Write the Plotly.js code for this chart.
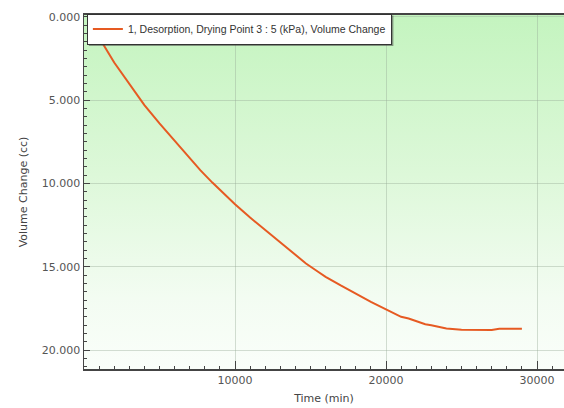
<!DOCTYPE html>
<html>
<head>
<meta charset="utf-8">
<script src="https://cdn.plot.ly/plotly-3.0.1.min.js"></script>
<style>html,body{margin:0;padding:0;background:#fff;}#chart{width:564px;height:408px;}</style>
</head>
<body>
<div id="chart"></div>
<script>
// Time (min)
const timeMin = [400, 1000, 2000, 3000, 4000, 5000, 6000, 7000, 7700, 8500, 9000, 10000,
  11000, 12000, 13000, 14000, 14700, 15500, 16000, 17000, 18000, 19000, 20000,
  21000, 21500, 22000, 22600, 23000, 23600, 24000, 25000, 26000, 27000, 27500, 29000];
// Volume Change (cc)
const volumeChange = [0.00, 1.25, 2.75, 4.05, 5.30, 6.40, 7.45, 8.45, 9.20, 9.95, 10.40, 11.25,
  12.05, 12.80, 13.55, 14.30, 14.80, 15.30, 15.60, 16.12, 16.63, 17.10, 17.55,
  18.00, 18.10, 18.28, 18.45, 18.50, 18.62, 18.70, 18.78, 18.79, 18.79, 18.72, 18.72];
const xTickVals = [10000, 20000, 30000];
const xTickText = ["10000", "20000", "30000"];
const seriesName = "1, Desorption, Drying Point 3 : 5 (kPa), Volume Change";
const xTitle = "Time (min)";
const yTitle = "Volume Change (cc)";

const gradSvg = '<svg xmlns="http://www.w3.org/2000/svg" width="100" height="100" preserveAspectRatio="none">' +
  '<defs><linearGradient id="g" x1="0" y1="0" x2="0" y2="1">' +
  '<stop offset="0" stop-color="#c4f4bf"/>' +
  '<stop offset="0.45" stop-color="#ddf8d9"/>' +
  '<stop offset="0.8" stop-color="#f3fcf2"/>' +
  '<stop offset="1" stop-color="#fafefa"/>' +
  '</linearGradient></defs><rect width="100" height="100" fill="url(#g)"/></svg>';
const gradUri = 'data:image/svg+xml;base64,' + btoa(gradSvg);

const tickFont = {family: "DejaVu Sans", size: 11, color: "#555"};

const trace = {
  x: timeMin, y: volumeChange, type: "scatter", mode: "lines",
  name: seriesName,
  line: {color: "#e65a22", width: 2}
};

const M = {l: 84, r: 0, t: 15, b: 39};
const layout = {
  width: 564, height: 408,
  margin: M,
  paper_bgcolor: "#ffffff",
  plot_bgcolor: "rgba(0,0,0,0)",
  showlegend: true,
  legend: {
    x: 0.006, y: 1.004, xanchor: "left", yanchor: "top",
    bgcolor: "#ffffff", bordercolor: "#333", borderwidth: 1,
    font: {family: "Liberation Sans", size: 10.5, color: "#333"},
    tracegroupgap: 0
  },
  images: [{
    source: gradUri, xref: "paper", yref: "paper", x: 0, y: 1,
    sizex: 1, sizey: 1, sizing: "stretch", layer: "below", xanchor: "left", yanchor: "top"
  }],
  xaxis: {
    range: [0, 31788], tickmode: "array", tickvals: xTickVals, ticktext: xTickText,
    ticks: "inside", ticklen: 8, tickcolor: "#444", tickwidth: 1,
    minor: {ticks: "inside", tickmode: "linear", dtick: 1000, tick0: 0, ticklen: 3, tickcolor: "#444", showgrid: false},
    showline: true, linecolor: "#444", linewidth: 2, mirror: true,
    showgrid: true, gridcolor: "rgba(150,170,150,0.4)", gridwidth: 1,
    zeroline: false, tickfont: tickFont,
    title: {text: xTitle, font: {family: "DejaVu Sans", size: 11, color: "#444"}, standoff: 8}
  },
  yaxis: {
    range: [21.13, -0.1], tickmode: "linear", tick0: 0, dtick: 5, tickformat: ".3f",
    ticks: "inside", ticklen: 6, tickcolor: "#444", tickwidth: 1,
    minor: {ticks: "inside", tickmode: "linear", dtick: 0.5, tick0: 0, ticklen: 3, tickcolor: "#444", showgrid: false},
    showline: true, linecolor: "#444", linewidth: 1.5, mirror: false,
    showgrid: true, gridcolor: "rgba(150,170,150,0.4)", gridwidth: 1,
    zeroline: false, tickfont: tickFont,
    title: {text: yTitle, font: {family: "DejaVu Sans", size: 11, color: "#444"}, standoff: 12}
  }
};

Plotly.newPlot("chart", [trace], layout, {displayModeBar: false, staticPlot: true}).then(function (gd) {
  // soft drop shadow behind the legend box, sized from the rendered legend
  const bg = gd.querySelector(".legend .bg");
  const leg = gd.querySelector(".legend");
  if (!bg || !leg) return;
  const m = /translate\(([-\d.]+)[ ,]+([-\d.]+)\)/.exec(leg.getAttribute("transform") || "");
  if (!m) return;
  const lx = parseFloat(m[1]), ly = parseFloat(m[2]);
  const w = parseFloat(bg.getAttribute("width")), h = parseFloat(bg.getAttribute("height"));
  const pw = 564 - M.l - M.r, ph = 408 - M.t - M.b;
  const px = function (x) { return (x - M.l) / pw; };
  const py = function (y) { return 1 - (y - M.t) / ph; };
  Plotly.relayout(gd, {shapes: [{
    type: "rect", xref: "paper", yref: "paper", layer: "above",
    x0: px(lx + 2), x1: px(lx + w + 2.5), y0: py(ly + h + 2.5), y1: py(ly + 2),
    fillcolor: "rgba(70,70,70,0.55)", line: {width: 0}
  }]});
});
</script>
</body>
</html>
